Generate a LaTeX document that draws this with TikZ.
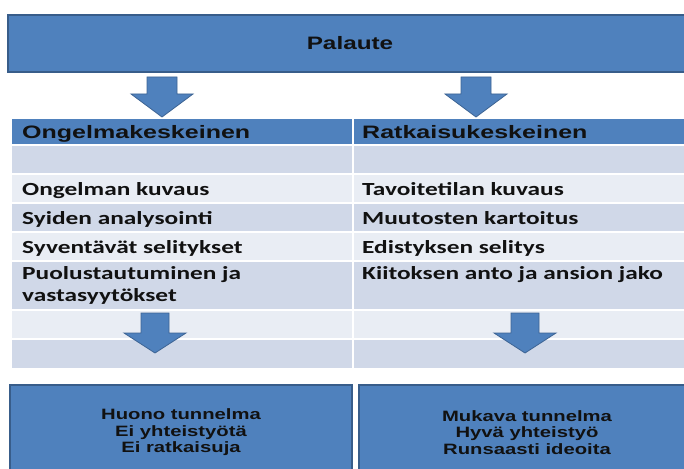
\documentclass[tikz,border=0pt]{standalone}
\usepackage{fontspec}
\newfontfamily\cellfont{Carlito}[FakeStretch=1.37]
\newfontfamily\boxfont{Liberation Sans}[FakeStretch=1.35]
\newfontfamily\headfont{Liberation Sans}[FakeStretch=1.39]
\definecolor{accent}{HTML}{4F81BD}
\definecolor{accentline}{HTML}{385D8A}
\definecolor{rowdark}{HTML}{D0D8E8}
\definecolor{rowlight}{HTML}{E9EDF4}
\definecolor{ink}{HTML}{111111}
\tikzset{
  banner/.style={fill=accent, draw=accentline, line width=1.2pt, inner sep=0},
  headtext/.style={anchor=base west, inner sep=0, text=ink,
    font=\headfont\bfseries\fontsize{18}{22}\selectfont},
  celltext/.style={anchor=base west, inner sep=0, text=ink, align=left,
    font=\cellfont\bfseries\fontsize{18.5}{22}\selectfont},
  outtext/.style={align=center, text=ink,
    font=\boxfont\bfseries\fontsize{15}{16.5}\selectfont},
  gridline/.style={white, line width=1.5pt},
  flowarrow/.style={fill=accent, draw=accentline!80!accent, line width=0.8pt, line join=miter},
  pics/blockarrow/.style n args={4}{code={%
    \filldraw[flowarrow] (-#1,0) -- (#1,0) -- (#1,#2) -- (#3,#2) -- (0,#2+#4)
      -- (-#3,#2) -- (-#1,#2) -- cycle;}},
}
\begin{document}
\begin{tikzpicture}[x=1pt,y=-1pt]
\useasboundingbox (0,0) rectangle (684,468);
\fill[white] (0,0) rectangle (684,468);

% feedback banner
\node[banner, minimum width=684pt, minimum height=57pt,
  font=\boxfont\bfseries\fontsize{18}{22}\selectfont, text=ink]
  (palaute) at (350,43.5) {Palaute};

% table rows
\fill[accent]   (12,119) rectangle (700,145);
\fill[rowdark]  (12,145) rectangle (700,174);
\fill[rowlight] (12,174) rectangle (700,203);
\fill[rowdark]  (12,203) rectangle (700,232);
\fill[rowlight] (12,232) rectangle (700,261);
\fill[rowdark]  (12,261) rectangle (700,310);
\fill[rowlight] (12,310) rectangle (700,339);
\fill[rowdark]  (12,339) rectangle (700,368);
\foreach \yy in {145,174,203,232,261,310,339}
  \draw[gridline] (12,\yy) -- (700,\yy);
\draw[white, line width=2pt] (353,119) -- (353,368);

% column headings
\node[headtext] (hleft)  at (22,138.5)  {Ongelmakeskeinen};
\node[headtext] (hright) at (362,138.5) {Ratkaisukeskeinen};

% left column (multi-line nodes sit on their last baseline)
\node[celltext] (l1) at (22,195) {Ongelman kuvaus};
\node[celltext] (l2) at (22,224) {Syiden analysointi};
\node[celltext] (l3) at (22,253) {Syventävät selitykset};
\node[celltext] (l4) at (22,301) {Puolustautuminen ja\\vastasyytökset};

% right column
\node[celltext] (r1) at (362,195) {Tavoitetilan kuvaus};
\node[celltext] (r2) at (362,224) {Muutosten kartoitus};
\node[celltext] (r3) at (362,253) {Edistyksen selitys};
\node[celltext] (r4) at (362,279) {Kiitoksen anto ja ansion jako};

% outcome boxes
\node[banner, minimum width=342pt, minimum height=95pt] (badbox) at (181,432.5) {};
\node[outtext] (bad) at (badbox.center) {Huono tunnelma\\Ei yhteistyötä\\Ei ratkaisuja};
\node[banner, minimum width=336pt, minimum height=95pt] (goodbox) at (527,432.5) {};
\node[outtext] (good) at (goodbox.center) {Mukava tunnelma\\Hyvä yhteistyö\\Runsaasti ideoita};

% block arrows
\coordinate (topL) at (162,77);
\coordinate (topR) at (476,77);
\coordinate (lowL) at (155,313);
\coordinate (lowR) at (525,313);
\pic at (topL) {blockarrow={15}{17}{31}{23}};
\pic at (topR) {blockarrow={15}{17}{31}{23}};
\pic at (lowL) {blockarrow={14}{20}{31}{20}};
\pic at (lowR) {blockarrow={14}{20}{31}{20}};
\end{tikzpicture}
\end{document}
